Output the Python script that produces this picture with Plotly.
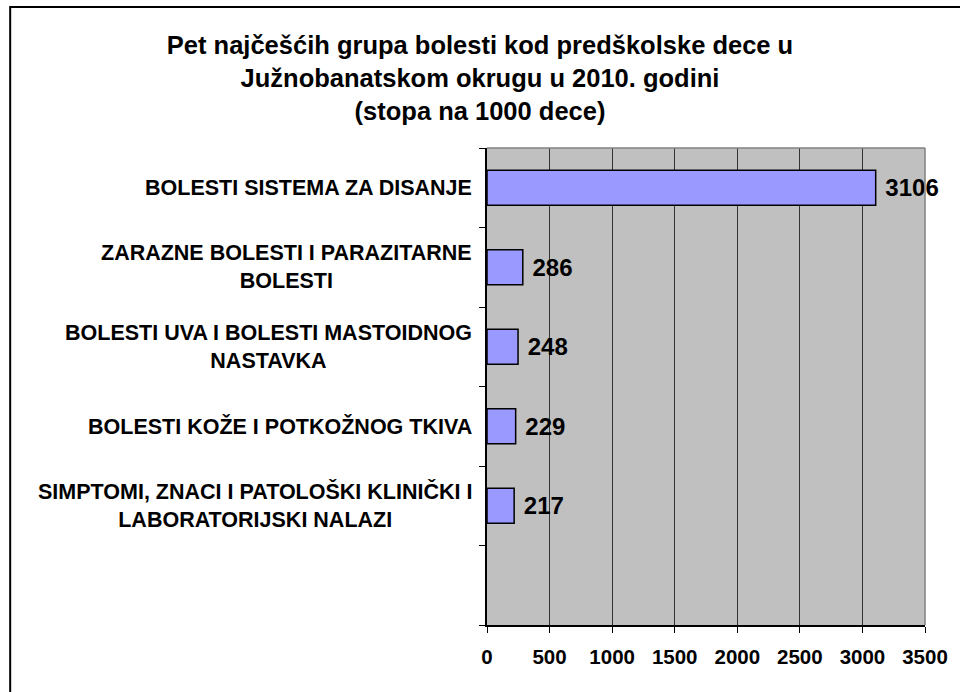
import plotly.graph_objects as go

categories = [
    "BOLESTI SISTEMA ZA DISANJE",
    "ZARAZNE BOLESTI I PARAZITARNE<br>BOLESTI",
    "BOLESTI UVA I BOLESTI MASTOIDNOG<br>NASTAVKA",
    "BOLESTI KOŽE I POTKOŽNOG TKIVA",
    "SIMPTOMI, ZNACI I PATOLOŠKI KLINIČKI I<br>LABORATORIJSKI NALAZI",
]
values = [3106, 286, 248, 229, 217]
x_ticks = [0, 500, 1000, 1500, 2000, 2500, 3000, 3500]
title_lines = [
    "Pet najčešćih grupa bolesti kod predškolske dece u",
    "Južnobanatskom okrugu u 2010. godini",
    "(stopa na 1000 dece)",
]

W, H = 960, 692
L, R, T, B = 487, 33, 148, 67
PW, PH = W - L - R, H - T - B

def px_x(px):
    return (px - L) / PW

def px_y(py):
    return (H - B - py) / PH

FONT = "Liberation Sans, Arial, sans-serif"
pos = list(range(len(categories)))

fig = go.Figure()
fig.add_trace(go.Bar(
    x=values, y=pos, orientation="h",
    marker=dict(color="#9999FF", line=dict(color="black", width=1.5)),
    width=0.44,
    text=["\u00a0" + str(v) for v in values], textposition="outside",
    textfont=dict(family=FONT, size=24, color="black", weight="bold"),
    cliponaxis=False, hoverinfo="skip",
))

annotations = []
for i, c in enumerate(categories):
    annotations.append(dict(
        x=px_x(474), xref="paper", y=i, yref="y",
        text=c, showarrow=False, xanchor="right", yanchor="middle", align="center",
        font=dict(family=FONT, size=21.5, color="black", weight="bold"),
    ))

shapes = [
    # outer frame
    dict(type="rect", xref="paper", yref="paper",
         x0=px_x(8), x1=px_x(975), y0=px_y(705), y1=px_y(7),
         line=dict(color="black", width=2), fillcolor="rgba(0,0,0,0)", layer="below"),
    # top and right plot border
    dict(type="line", xref="paper", yref="paper", x0=0, x1=1, y0=1, y1=1,
         line=dict(color="#808080", width=1.5)),
    dict(type="line", xref="paper", yref="paper", x0=1, x1=1, y0=0, y1=1,
         line=dict(color="#808080", width=1.5)),
]

fig.update_layout(
    width=W, height=H,
    margin=dict(l=L, r=R, t=T, b=B),
    paper_bgcolor="white", plot_bgcolor="#C0C0C0",
    showlegend=False,
    title=dict(text="<br>".join(title_lines), x=0.5, xref="container", xanchor="center",
               y=1 - 53.5 / H, yref="container", yanchor="middle",
               font=dict(family=FONT, size=25.5, color="black", weight="bold")),
    xaxis=dict(range=[0, 3500], tickvals=x_ticks, ticktext=[str(t) for t in x_ticks],
               showgrid=True, gridcolor="#333333", gridwidth=1,
               showline=True, linecolor="black", linewidth=1.5,
               ticks="outside", ticklen=6, tickcolor="black",
               ticklabelstandoff=7,
               tickfont=dict(family=FONT, size=20.5, color="black", weight="bold"),
               zeroline=False, fixedrange=True),
    yaxis=dict(range=[5.5, -0.5], tickmode="linear", tick0=-0.5, dtick=1,
               showticklabels=False, showgrid=False, zeroline=False,
               showline=True, linecolor="black", linewidth=1.5,
               ticks="outside", ticklen=6, tickcolor="black", fixedrange=True),
    annotations=annotations,
    shapes=shapes,
)

fig.write_html("out.html", config={"displayModeBar": False},
               post_script="document.body.style.margin='0';")
